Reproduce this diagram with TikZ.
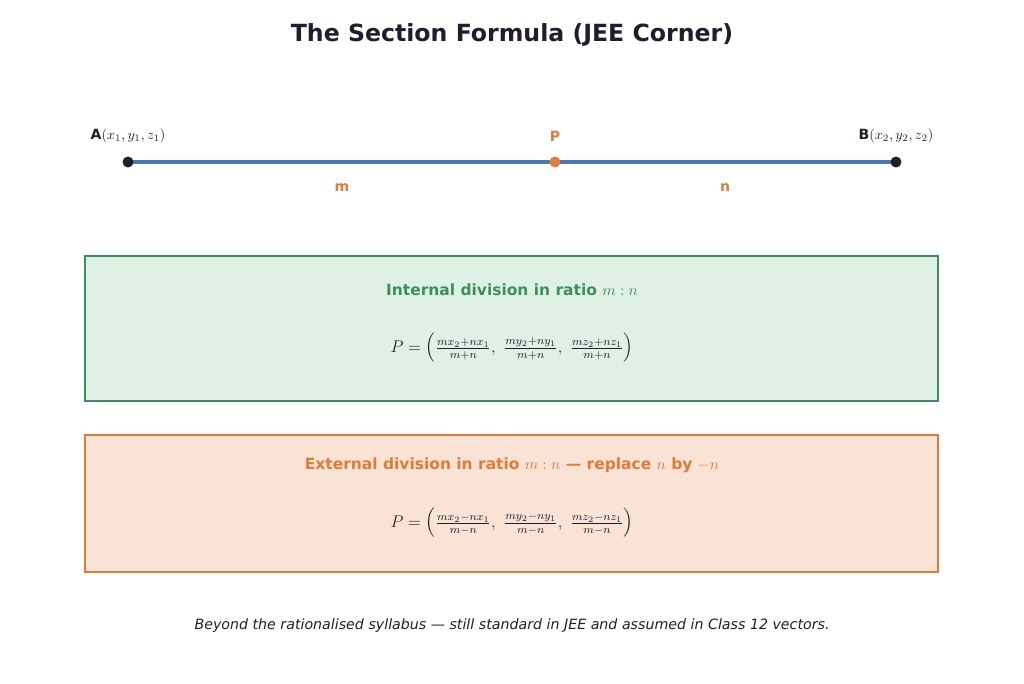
\documentclass[tikz,border=0pt]{standalone}
\usepackage{amsmath,amssymb}
\usepackage{fontspec}
\setmainfont{DejaVu Sans}
\usepackage{tikz}
\definecolor{segblue}{HTML}{4A78B5}
\definecolor{darkink}{HTML}{1E1E2E}
\definecolor{ptorange}{HTML}{E07B39}
\definecolor{ingreen}{HTML}{3D8F5A}
\definecolor{infill}{HTML}{DFF0E4}
\definecolor{exfill}{HTML}{F9E3D5}
\tikzset{
  lbl/.style={font=\fontsize{10}{12}\selectfont,text=darkink},
  olbl/.style={font=\fontsize{10}{12}\selectfont\bfseries,text=ptorange},
  boxhead/.style={font=\fontsize{11}{13}\selectfont\bfseries},
  formula/.style={font=\fontsize{11.6}{14}\selectfont,text=darkink},
}
\begin{document}
\begin{tikzpicture}[x=0.025cm,y=-0.025cm]
\useasboundingbox (0,0) rectangle (1024,683);
\node[font=\fontsize{16.8}{20}\selectfont\bfseries,text=darkink] (title) at (512,35) {The Section Formula (JEE Corner)};
% the segment AB with P
\coordinate (A) at (128,162);
\coordinate (B) at (896,162);
\coordinate (P) at (555,162);
\draw [segblue,line width=2.2pt] (A)--(B);
\fill [darkink] (A) circle (5.5);
\fill [darkink] (B) circle (5.5);
\fill [ptorange] (P) circle (5.5);
\node[lbl] (Alab) at (128,136) {\textbf{A}$(x_1,y_1,z_1)$};
\node[olbl] (Plab) at (555,136) {P};
\node[lbl] (Blab) at (896,136) {\textbf{B}$(x_2,y_2,z_2)$};
\node[olbl] (mlab) at (342,188) {m};
\node[olbl] (nlab) at (725,188) {n};
% internal division
\draw [ingreen,fill=infill,line width=1.6pt] (85,256) rectangle (938,401);
\node[boxhead,text=ingreen] (inhead) at (512,290) {Internal division in ratio $m:n$};
\node[formula] (inform) at (512,348) {$P=\left(\tfrac{mx_2+nx_1}{m+n},\ \tfrac{my_2+ny_1}{m+n},\ \tfrac{mz_2+nz_1}{m+n}\right)$};
% external division
\draw [ptorange,fill=exfill,line width=1.6pt] (85,435) rectangle (938,572);
\node[boxhead,text=ptorange] (exhead) at (512,465) {External division in ratio $m:n$ --- replace $n$ by $-n$};
\node[formula] (exform) at (512,523) {$P=\left(\tfrac{mx_2-nx_1}{m-n},\ \tfrac{my_2-ny_1}{m-n},\ \tfrac{mz_2-nz_1}{m-n}\right)$};
\node[font=\fontsize{10.1}{12}\selectfont\itshape,text=darkink] (foot) at (512,626) {Beyond the rationalised syllabus --- still standard in JEE and assumed in Class 12 vectors.};
\end{tikzpicture}
\end{document}
